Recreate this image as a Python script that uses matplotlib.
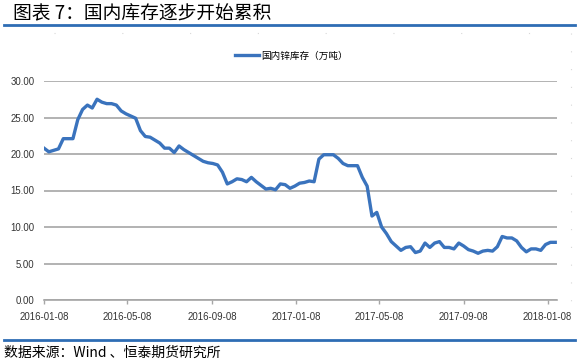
import numpy as np
import pandas as pd
import matplotlib
matplotlib.use('Agg')
import matplotlib.pyplot as plt
import matplotlib.dates as mdates
from matplotlib.lines import Line2D
from matplotlib.patches import Rectangle

plt.rcParams['font.family'] = ['Liberation Sans', 'Noto Sans CJK SC', 'DejaVu Sans']

# 周度数据：国内锌库存（万吨），2016-01-08 起
start_date = '2016-01-08'
stock = [
    20.8, 20.3, 20.5, 20.7, 22.1, 22.1, 22.1, 24.7, 26.1, 26.7,
    26.3, 27.5, 27.1, 26.9, 26.9, 26.7, 25.9, 25.5, 25.2, 24.9,
    23.2, 22.4, 22.3, 21.9, 21.5, 20.8, 20.8, 20.2, 21.1, 20.6,
    20.2, 19.8, 19.4, 19.0, 18.8, 18.7, 18.5, 17.5, 15.9, 16.2,
    16.6, 16.5, 16.2, 16.8, 16.2, 15.7, 15.2, 15.3, 15.1, 15.9,
    15.8, 15.3, 15.6, 16.0, 16.1, 16.3, 16.2, 19.3, 19.9, 19.9,
    19.9, 19.4, 18.7, 18.4, 18.4, 18.4, 16.8, 15.6, 11.5, 12.0,
    10.0, 9.1, 8.0, 7.4, 6.8, 7.2, 7.3, 6.5, 6.7, 7.8,
    7.2, 7.8, 8.0, 7.2, 7.2, 7.0, 7.8, 7.4, 6.9, 6.7,
    6.4, 6.7, 6.8, 6.7, 7.3, 8.7, 8.5, 8.5, 8.1, 7.2,
    6.6, 7.0, 7.0, 6.8, 7.6, 7.9, 7.9,
]
dates = pd.date_range(start_date, periods=len(stock), freq='7D')
tick_dates = ['2016-01-08', '2016-05-08', '2016-09-08', '2017-01-08',
              '2017-05-08', '2017-09-08', '2018-01-08']
y_ticks = [0, 5, 10, 15, 20, 25, 30]

blue = '#3A73BD'
grid_gray = '#A6A6A6'

W, H = 582, 363
fig = plt.figure(figsize=(W / 100, H / 100), dpi=100)

ax = fig.add_axes([44 / W, 1 - 300 / H, (557.3 - 44) / W, (300 - 81) / H])
ax.plot(dates, stock, color=blue, lw=2.4, solid_joinstyle='round')

ax.set_ylim(0, 30)
ax.set_yticks(y_ticks)
ax.set_yticklabels([f'{v:.2f}' for v in y_ticks])
ax.set_xlim(pd.Timestamp(start_date), dates[-1] + pd.Timedelta(days=3))
ax.set_xticks(pd.to_datetime(tick_dates))
ax.xaxis.set_major_formatter(mdates.DateFormatter('%Y-%m-%d'))

ax.grid(axis='y', color=grid_gray, lw=1.2)
ax.set_axisbelow(True)
for s in ['top', 'right', 'left']:
    ax.spines[s].set_visible(False)
ax.spines['bottom'].set_color(grid_gray)
ax.spines['bottom'].set_linewidth(1.2)
ax.tick_params(axis='y', length=0, pad=7, labelsize=6.9, labelcolor='#333333')
ax.tick_params(axis='x', length=3, width=1, color=grid_gray, pad=6,
               labelsize=6.9, labelcolor='#333333')

# 最后一个日期标签被图表区域截断
fig.add_artist(Rectangle((571 / W, 1 - 330 / H), 11 / W, 24 / H, color='white', zorder=10))

# 图例
leg = ax.legend(['国内锌库存（万吨）'], loc='center', bbox_to_anchor=(291 / W, 1 - 56 / H),
                bbox_transform=fig.transFigure, frameon=False,
                handlelength=2.6, handletextpad=0.15,
                prop={'family': ['Noto Sans CJK SC'], 'size': 6.9})

# 标题与蓝色分隔线
fig.text(13 / W, 1 - 14 / H, '图表 7：国内库存逐步开始累积', fontsize=13.5,
         va='center', ha='left', family=['Noto Sans CJK SC', 'DejaVu Sans'])
fig.add_artist(Line2D([4 / W, 575 / W], [1 - 24.5 / H] * 2, color='#2E6DB4', lw=2))
fig.add_artist(Line2D([4 / W, 575 / W], [1 - 340 / H] * 2, color='#2E6DB4', lw=2))

# 图表边框的虚线痕迹
fig.add_artist(Line2D([54 / W, 571 / W], [1 - 33 / H] * 2, color='#D8D8D8', lw=0.8,
                      ls=(0, (1, 60))))
fig.add_artist(Line2D([571 / W, 571 / W], [1 - 33 / H, 1 - 305 / H], color='#D8D8D8', lw=0.8,
                      ls=(0, (1, 15))))

fig.text(4 / W, 1 - 353 / H, '数据来源：Wind 、恒泰期货研究所', fontsize=10,
         va='center', ha='left', family=['Noto Sans CJK SC', 'DejaVu Sans'])

fig.savefig('out.png', dpi=100)
